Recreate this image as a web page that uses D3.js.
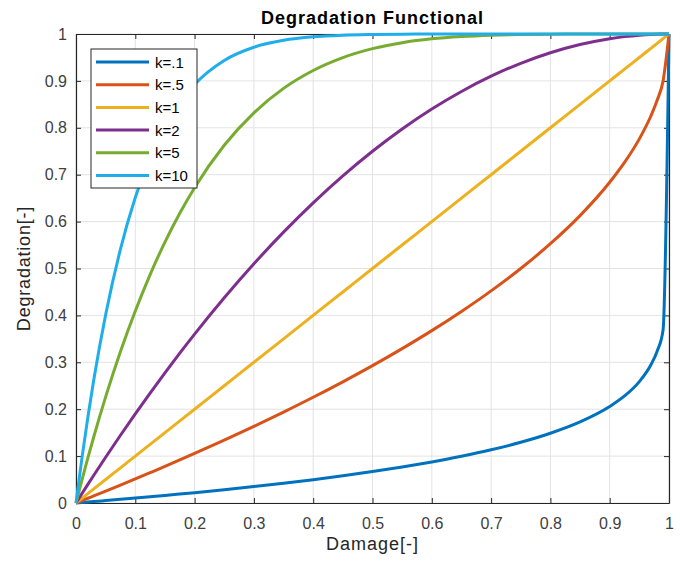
<!DOCTYPE html>
<html><head><meta charset="utf-8">
<script src="https://cdn.jsdelivr.net/npm/d3@7"></script>
<style>body{margin:0;background:#fff;}svg{display:block;font-family:"Liberation Sans",Arial,sans-serif;}</style>
</head><body>
<script>
const damage = [0, 0.01, 0.02, 0.03, 0.05, 0.075, 0.1, 0.125, 0.15, 0.175, 0.2, 0.25, 0.3, 0.35, 0.4, 0.45, 0.5, 0.55, 0.6, 0.65, 0.7, 0.75, 0.8, 0.85, 0.9, 0.925, 0.95, 0.97, 0.98, 0.99, 1];
const k01 = [0, 0.0010, 0.0020, 0.0030, 0.0051, 0.0078, 0.0105, 0.0133, 0.0161, 0.0191, 0.0221, 0.0284, 0.0350, 0.0422, 0.0498, 0.0580, 0.0670, 0.0767, 0.0876, 0.0997, 0.1134, 0.1294, 0.1487, 0.1728, 0.2057, 0.2282, 0.2589, 0.2958, 0.3238, 0.3690, 1];
const k05 = [0, 0.0050, 0.0101, 0.0151, 0.0253, 0.0382, 0.0513, 0.0646, 0.0780, 0.0917, 0.1056, 0.1340, 0.1633, 0.1938, 0.2254, 0.2584, 0.2929, 0.3292, 0.3675, 0.4084, 0.4523, 0.5, 0.5528, 0.6127, 0.6838, 0.7261, 0.7764, 0.8268, 0.8586, 0.9, 1];
const k1 = [0, 0.01, 0.02, 0.03, 0.05, 0.075, 0.1, 0.125, 0.15, 0.175, 0.2, 0.25, 0.3, 0.35, 0.4, 0.45, 0.5, 0.55, 0.6, 0.65, 0.7, 0.75, 0.8, 0.85, 0.9, 0.925, 0.95, 0.97, 0.98, 0.99, 1];
const k2 = [0, 0.0199, 0.0396, 0.0591, 0.0975, 0.1444, 0.19, 0.2344, 0.2775, 0.3194, 0.36, 0.4375, 0.51, 0.5775, 0.64, 0.6975, 0.75, 0.7975, 0.84, 0.8775, 0.91, 0.9375, 0.96, 0.9775, 0.99, 0.9944, 0.9975, 0.9991, 0.9996, 0.9999, 1];
const k5 = [0, 0.0490, 0.0961, 0.1413, 0.2262, 0.3228, 0.4095, 0.4871, 0.5563, 0.6178, 0.6723, 0.7627, 0.8319, 0.8840, 0.9222, 0.9497, 0.9688, 0.9815, 0.9898, 0.9947, 0.9976, 0.9990, 0.9997, 0.9999, 1, 1, 1, 1, 1, 1, 1];
const k10 = [0, 0.0956, 0.1829, 0.2626, 0.4013, 0.5414, 0.6513, 0.7369, 0.8031, 0.8539, 0.8926, 0.9437, 0.9718, 0.9865, 0.9940, 0.9975, 0.9990, 0.9997, 0.9999, 1, 1, 1, 1, 1, 1, 1, 1, 1, 1, 1, 1];
const seriesNames = ["k=.1", "k=.5", "k=1", "k=2", "k=5", "k=10"];
const seriesValues = [k01, k05, k1, k2, k5, k10];
const colors = ["#0072BD", "#D95319", "#EDB120", "#7E2F8E", "#77AC30", "#1FAEEA"];
const xTicks = [0, 0.1, 0.2, 0.3, 0.4, 0.5, 0.6, 0.7, 0.8, 0.9, 1];
const yTicks = [0, 0.1, 0.2, 0.3, 0.4, 0.5, 0.6, 0.7, 0.8, 0.9, 1];

const W = 685, H = 565;
const m = {left: 76, right: 16, top: 34, bottom: 62};
const svg = d3.select("body").append("svg").attr("width", W).attr("height", H);
const x = d3.scaleLinear().domain([0, 1]).range([m.left, W - m.right]);
const y = d3.scaleLinear().domain([0, 1]).range([H - m.bottom, m.top]);
const axisCol = "#262626";
const tickCol = "#404040";

// grid
const g = svg.append("g");
g.selectAll(".gx").data(xTicks).enter().append("line")
  .attr("x1", d => x(d)).attr("x2", d => x(d)).attr("y1", y(0)).attr("y2", y(1))
  .attr("stroke", "#e3e3e3").attr("stroke-width", 1);
g.selectAll(".gy").data(yTicks).enter().append("line")
  .attr("y1", d => y(d)).attr("y2", d => y(d)).attr("x1", x(0)).attr("x2", x(1))
  .attr("stroke", "#e3e3e3").attr("stroke-width", 1);

// axes
const xAxis = svg.append("g").attr("transform", `translate(0,${y(0)})`)
  .call(d3.axisBottom(x).tickValues(xTicks).tickFormat(d3.format("")).tickSizeInner(-5).tickSizeOuter(0).tickPadding(15));
const yAxis = svg.append("g").attr("transform", `translate(${x(0)},0)`)
  .call(d3.axisLeft(y).tickValues(yTicks).tickFormat(d3.format("")).tickSizeInner(-5).tickSizeOuter(0).tickPadding(9));
const xTop = svg.append("g").attr("transform", `translate(0,${y(1)})`)
  .call(d3.axisTop(x).tickValues(xTicks).tickFormat("").tickSizeInner(-5).tickSizeOuter(0));
const yRight = svg.append("g").attr("transform", `translate(${x(1)},0)`)
  .call(d3.axisRight(y).tickValues(yTicks).tickFormat("").tickSizeInner(-5).tickSizeOuter(0));
[xAxis, yAxis, xTop, yRight].forEach(a => {
  a.selectAll("path").attr("stroke", axisCol).attr("stroke-width", 1.2);
  a.selectAll("line").attr("stroke", axisCol);
  a.selectAll("text").attr("fill", tickCol).style("font-size", "16px");
});

// lines (drawn over the axes, as in the reference)
const line = d3.line().x((d, i) => x(damage[i])).y(d => y(d)).curve(d3.curveMonotoneX);
seriesValues.forEach((vals, i) => {
  svg.append("path").datum(vals).attr("d", line)
    .attr("fill", "none").attr("stroke", colors[i]).attr("stroke-width", 3)
    .attr("stroke-linejoin", "round");
});

// title & labels
svg.append("text").attr("x", (x(0) + x(1)) / 2).attr("y", 24).attr("text-anchor", "middle")
  .style("font-size", "18px").style("font-weight", "bold").style("letter-spacing", "1px")
  .attr("fill", "#000").text("Degradation Functional");
svg.append("text").attr("x", (x(0) + x(1)) / 2).attr("y", 550).attr("text-anchor", "middle")
  .style("font-size", "18px").style("letter-spacing", "1px").attr("fill", axisCol).text("Damage[-]");
svg.append("text").attr("transform", `translate(30,${(y(0) + y(1)) / 2}) rotate(-90)`).attr("text-anchor", "middle")
  .style("font-size", "18px").style("letter-spacing", "0.8px").attr("fill", axisCol).text("Degradation[-]");

// legend
const lg = svg.append("g");
lg.append("rect").attr("x", 91).attr("y", 49).attr("width", 106).attr("height", 139)
  .attr("fill", "#fff").attr("stroke", axisCol).attr("stroke-width", 1);
seriesNames.forEach((nm, i) => {
  const yy = 62 + i * 22.7;
  lg.append("line").attr("x1", 96).attr("x2", 149).attr("y1", yy).attr("y2", yy)
    .attr("stroke", colors[i]).attr("stroke-width", 3);
  lg.append("text").attr("x", 155).attr("y", yy + 5.5).style("font-size", "15px").attr("fill", "#000").text(nm);
});
</script>
</body></html>
